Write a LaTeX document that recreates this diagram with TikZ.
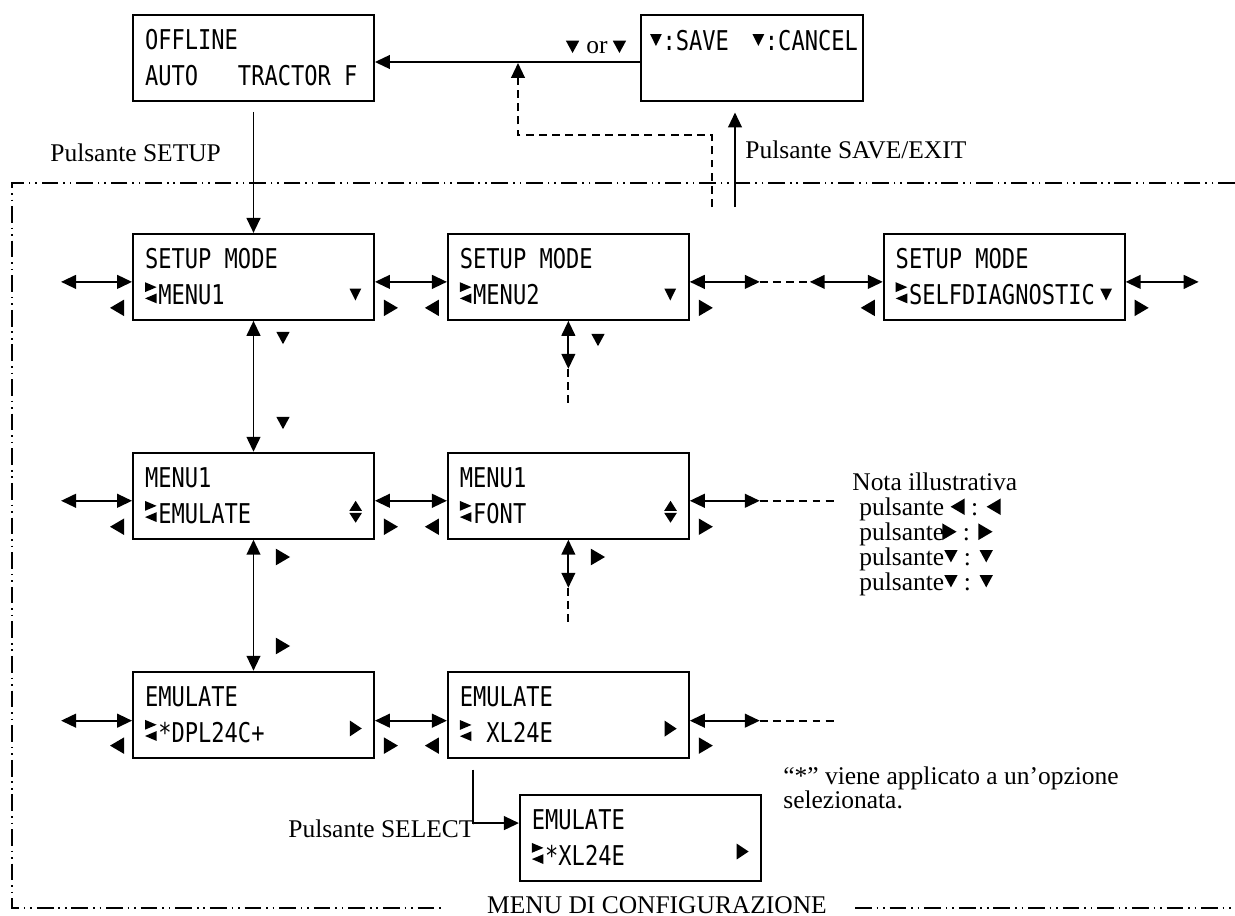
\documentclass[tikz,border=0pt]{standalone}
\usepackage{fontspec}
\setmainfont{Liberation Serif}
\newfontfamily\lcdfont[FakeStretch=0.81]{DejaVu Sans Mono}
\usetikzlibrary{arrows.meta, positioning}

% button glyphs
\newcommand{\tril}{\tikz[x=1pt,y=1pt]\fill (0,4.7)--(8,9.4)--(8,0)--cycle;}
\newcommand{\trir}{\tikz[x=1pt,y=1pt]\fill (0,0)--(0,9.4)--(8,4.7)--cycle;}
\newcommand{\trid}{\tikz[x=1pt,y=1pt]\fill (0,7)--(7.6,7)--(3.8,0)--cycle;}
% LCD glyphs, one character cell wide
\newcommand{\lsp}{\kern7.56pt}
\newcommand{\lcdcur}{\tikz[x=1pt,y=1pt,baseline=0pt]{\path (0,0) (7.56,0);
  \fill (0,7.2)--(0,12.8)--(6.6,10)--cycle; \fill (6.6,0.8)--(6.6,6.4)--(0,3.6)--cycle;}}
\newcommand{\lcddn}{\tikz[x=1pt,y=1pt,baseline=0pt]{\path (0,0) (7.5,0);
  \fill (0.4,9.2)--(7.1,9.2)--(3.75,2.4)--cycle;}}
\newcommand{\lcdrt}{\tikz[x=1pt,y=1pt,baseline=0pt]{\path (0,0) (7.5,0);
  \fill (0.6,3.4)--(0.6,12.4)--(7.4,7.9)--cycle;}}
\newcommand{\lcdud}{\tikz[x=1pt,y=1pt,baseline=0pt]{\path (0,0) (7.5,0);
  \fill (0.4,7.2)--(7.6,7.2)--(4,12.9)--cycle; \fill (0.4,6)--(7.6,6)--(4,0.4)--cycle;}}

\tikzset{
  lcd/.style={rectangle, draw, line width=1.1pt, minimum width=4.82cm,
    minimum height=1.72cm, text width=4.34cm, inner xsep=0.24cm, align=left,
    font=\lcdfont\fontsize{15.5}{20.4}\selectfont},
  note/.style={font=\fontsize{14.5}{17}\selectfont, inner sep=0pt, anchor=base west},
  glyph/.style={inner sep=0pt},
  arrow/.style={-{Triangle[length=8.5pt, width=7.8pt]}, line width=1.1pt},
  biarrow/.style={{Triangle[length=8.5pt, width=7.8pt]}-{Triangle[length=8.5pt, width=7.8pt]},
    line width=1.1pt},
  dashline/.style={line width=1.1pt, dash pattern=on 4.5pt off 3pt},
  frameline/.style={line width=0.8pt,
    dash pattern=on 9.5pt off 2.8pt on 0.9pt off 2.8pt on 0.9pt off 2.8pt},
}

\begin{document}
\begin{tikzpicture}[x=0.02cm, y=-0.02cm]
  \useasboundingbox (0,0) rectangle (1235,916);

  % displays
  \node[lcd] (offl) at (253.5,58) {OFFLINE\\AUTO\lsp\lsp\lsp TRACTOR\lsp F};
  \node[lcd, right=5.3cm of offl, minimum width=4.44cm, text width=4.1cm, inner xsep=0.17cm]
    (save) {\mbox{\lcddn:SAVE\kern13pt\lcddn:CANCEL}\\\mbox{}};
  \node[lcd, below=2.62cm of offl] (sm1) {SETUP\lsp MODE\\\lcdcur MENU1\hfill\lcddn};
  \node[lcd, right=1.44cm of sm1] (sm2) {SETUP\lsp MODE\\\lcdcur MENU2\hfill\lcddn};
  \node[lcd, right=3.86cm of sm2] (sm3) {SETUP\lsp MODE\\\lcdcur SELFDIAGNOSTIC\hfill\lcddn};
  \node[lcd, below=2.62cm of sm1] (mn1) {MENU1\\\lcdcur EMULATE\hfill\lcdud};
  \node[lcd, right=1.44cm of mn1] (mn2) {MENU1\\\lcdcur FONT\hfill\lcdud};
  \node[lcd, below=2.62cm of mn1] (em1) {EMULATE\\\lcdcur*DPL24C+\hfill\lcdrt};
  \node[lcd, right=1.44cm of em1] (em2) {EMULATE\\\lcdcur\lsp XL24E\hfill\lcdrt};
  \node[lcd, below=0.7cm of em2, xshift=1.44cm] (em3) {EMULATE\\\lcdcur*XL24E\hfill\lcdrt};

  % free ends
  \coordinate (smL) at ([xshift=-1.42cm,yshift=-0.1cm]sm1.west);
  \coordinate (smA) at ([xshift=1.4cm,yshift=-0.1cm]sm2.east);
  \coordinate (smB) at ([xshift=-1.46cm,yshift=-0.1cm]sm3.west);
  \coordinate (smR) at ([xshift=1.46cm,yshift=-0.1cm]sm3.east);
  \coordinate (mnL) at ([xshift=-1.42cm,yshift=-0.1cm]mn1.west);
  \coordinate (mnA) at ([xshift=1.4cm,yshift=-0.1cm]mn2.east);
  \coordinate (mnB) at ([xshift=2.88cm,yshift=-0.1cm]mn2.east);
  \coordinate (emL) at ([xshift=-1.42cm,yshift=-0.12cm]em1.west);
  \coordinate (emA) at ([xshift=1.4cm,yshift=-0.12cm]em2.east);
  \coordinate (emB) at ([xshift=2.88cm,yshift=-0.12cm]em2.east);
  \coordinate (smD) at ([yshift=-0.96cm]sm2.south);
  \coordinate (smE) at ([yshift=-1.64cm]sm2.south);
  \coordinate (mnD) at ([yshift=-0.96cm]mn2.south);
  \coordinate (mnE) at ([yshift=-1.64cm]mn2.south);
  \coordinate (exitA) at (712,207);
  \coordinate (exitB) at (735,207);
  \coordinate (backtip) at (518,63);

  % top connectors
  \draw[arrow] ([yshift=-0.08cm]save.west) -- ([yshift=-0.08cm]offl.east);
  \node[note, anchor=base] (orlbl) at (596,53) {\trid\hspace{4pt}or\hspace{3pt}\trid};
  \draw[arrow] ([yshift=-0.2cm]offl.south) -- (sm1.north);
  \draw[arrow, dashline] (exitA) -- ++(0,-72) -| (backtip);
  \draw[arrow, shorten >=6pt] (exitB) -- (exitB |- save.south);

  % setup mode row
  \draw[biarrow] (smL) -- ([yshift=-0.1cm]sm1.west);
  \draw[biarrow] ([yshift=-0.1cm]sm1.east) -- ([yshift=-0.1cm]sm2.west);
  \draw[biarrow] ([yshift=-0.1cm]sm2.east) -- (smA);
  \draw[dashline] (smA) -- (smB);
  \draw[biarrow] (smB) -- ([yshift=-0.1cm]sm3.west);
  \draw[biarrow] ([yshift=-0.1cm]sm3.east) -- (smR);

  % menu row
  \draw[biarrow] (mnL) -- ([yshift=-0.1cm]mn1.west);
  \draw[biarrow] ([yshift=-0.1cm]mn1.east) -- ([yshift=-0.1cm]mn2.west);
  \draw[biarrow] ([yshift=-0.1cm]mn2.east) -- (mnA);
  \draw[dashline] (mnA) -- (mnB);

  % emulate row
  \draw[biarrow] (emL) -- ([yshift=-0.12cm]em1.west);
  \draw[biarrow] ([yshift=-0.12cm]em1.east) -- ([yshift=-0.12cm]em2.west);
  \draw[biarrow] ([yshift=-0.12cm]em2.east) -- (emA);
  \draw[dashline] (emA) -- (emB);

  % vertical links
  \draw[biarrow] (sm1.south) -- (mn1.north);
  \draw[biarrow] (mn1.south) -- (em1.north);
  \draw[biarrow] (sm2.south) -- (smD);
  \draw[dashline] (smD) -- (smE);
  \draw[biarrow] (mn2.south) -- (mnD);
  \draw[dashline] (mnD) -- (mnE);
  \draw[arrow] ([xshift=0.52cm,yshift=-0.22cm]em2.south west) |- ([yshift=0.29cm]em3.west);

  % button marks
  \foreach \b in {sm1,sm2,sm3,mn1,mn2,em1,em2}{
    \node[glyph] (\b-l) at ([xshift=-0.3cm,yshift=0.26cm]\b.south west) {\tril};
    \node[glyph] (\b-r) at ([xshift=0.32cm,yshift=0.26cm]\b.south east) {\trir};
  }
  \node[glyph] (dn1) at (283,338) {\trid};
  \node[glyph] (dn2) at (283,423) {\trid};
  \node[glyph] (dn3) at (598,340) {\trid};
  \node[glyph] (rt1) at (283,557) {\trir};
  \node[glyph] (rt2) at (283,646) {\trir};
  \node[glyph] (rt3) at (598,557) {\trir};

  % texts
  \node[note] (setup) at (50,161) {Pulsante SETUP};
  \node[note] (exit) at (745,158) {Pulsante SAVE/EXIT};
  \node[note] (select) at (288,837) {Pulsante SELECT};
  \node[note] (star1) at (783,784) {“*” viene applicato a un’opzione};
  \node[note] (star2) at (783,808) {selezionata.};
  \node[note] (nota) at (852,490) {Nota illustrativa};
  \node[note] (key1) at (859,515) {pulsante \tril\ : \tril};
  \node[note] (key2) at (859,540) {pulsante\kern-1pt\trir\ : \trir};
  \node[note] (key3) at (859,565) {pulsante\raisebox{1.5pt}{\trid}\ : \raisebox{1.5pt}{\trid}};
  \node[note] (key4) at (859,590) {pulsante\raisebox{1.5pt}{\trid}\ : \raisebox{1.5pt}{\trid}};

  % setup menu frame
  \node[note, anchor=base] (cfg) at (657,913) {MENU DI CONFIGURAZIONE};
  \draw[frameline] (1235,183) -- (12,183) -- (12,908) -- (445,908);
  \draw[frameline] (855,908) -- (1235,908);
\end{tikzpicture}
\end{document}
